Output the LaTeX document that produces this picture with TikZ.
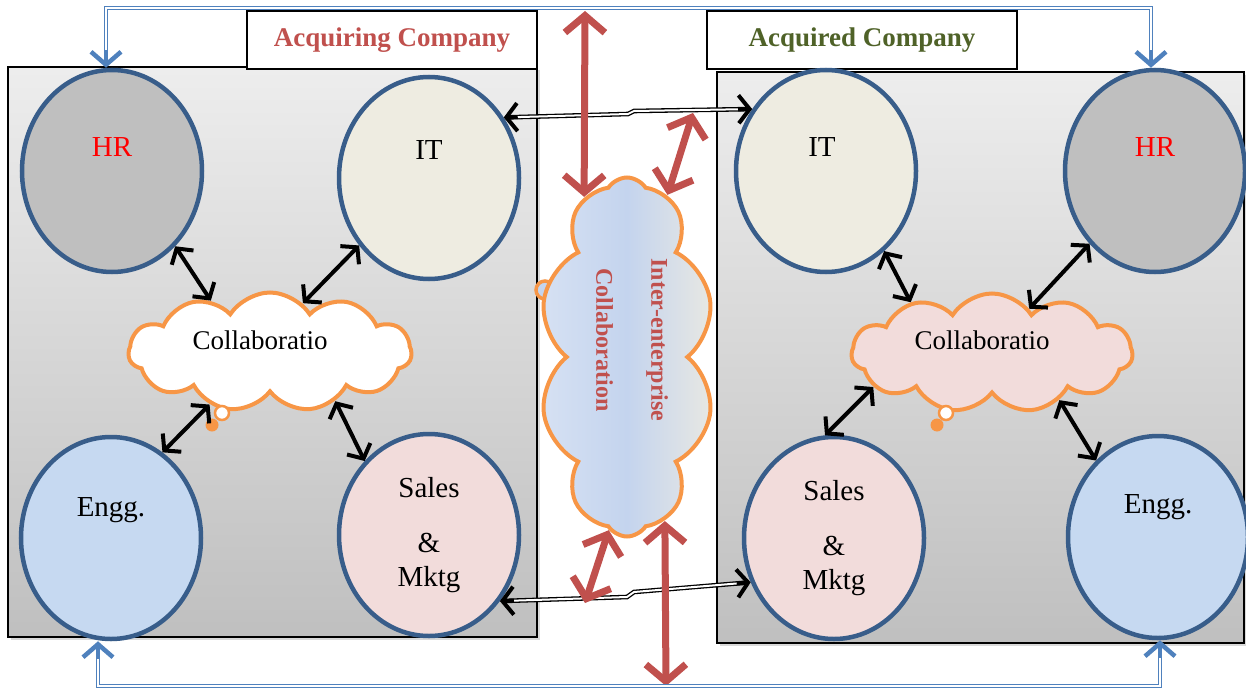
\documentclass[tikz,border=0pt]{standalone}
\usepackage{fontspec}
\setmainfont{Liberation Serif}
\usetikzlibrary{shapes.symbols,shapes.geometric,arrows.meta,shadows,calc}
\definecolor{rimblue}{HTML}{385D8A}
\definecolor{lineblue}{HTML}{4F81BD}
\definecolor{hrgray}{HTML}{BFBFBF}
\definecolor{itcream}{HTML}{EEECE1}
\definecolor{engblue}{HTML}{C6D9F1}
\definecolor{salespink}{HTML}{F2DCDB}
\definecolor{cloudorange}{HTML}{F79646}
\definecolor{arrowred}{HTML}{C0504D}
\definecolor{titlegreen}{HTML}{4F6228}
\definecolor{mistblue}{HTML}{C4D4EE}
\definecolor{mistgray}{HTML}{E8E8E3}
\begin{document}
\begin{tikzpicture}[x=1pt,y=-1pt,
  panel/.style={draw=black, line width=1.2pt, top color=black!7, bottom color=black!25, drop shadow={shadow xshift=3pt, shadow yshift=-3pt, opacity=.3}},
  titlebox/.style={draw=black, line width=1.2pt, fill=white, minimum width=290pt, minimum height=58pt, font=\fontsize{27}{30}\selectfont\bfseries},
  dept/.style={ellipse, draw=rimblue, line width=4.5pt, minimum width=180pt, minimum height=202pt, inner sep=0pt},
  lbl/.style={font=\fontsize{29}{34}\selectfont, align=center},
  puff/.style={cloud, cloud puffs=11, cloud puff arc=115, cloud ignores aspect, draw=cloudorange, line width=4pt, inner sep=0pt},
  link/.style={line width=4pt, {Straight Barb[length=11pt,width=26pt]}-{Straight Barb[length=11pt,width=26pt]}},
  wire/.style={line width=1.3pt, double=white, double distance=2pt},
  wiretip/.style={line width=4pt, -{Straight Barb[length=11pt,width=28pt]}},
  bigarrow/.style={arrowred, line width=7pt, {Straight Barb[length=17pt,width=40pt]}-{Straight Barb[length=17pt,width=40pt]}},
  loop/.style={lineblue, line width=1.3pt, double=white, double distance=2pt},
  looptip/.style={lineblue, line width=4.5pt, -{Straight Barb[length=13pt,width=30pt]}}
]
\useasboundingbox (0,0) rectangle (1246,690);

\draw[panel] (8,67) rectangle (537,637);
\draw[panel] (717,72) rectangle (1244,643);
\node[titlebox, text=arrowred] (title1) at (392,40) {Acquiring Company};
\node[titlebox, text=titlegreen, minimum width=310pt] (title2) at (862,40) {Acquired Company};

\node[dept, fill=hrgray] (hr1) at (112,171) {};
\node[dept, fill=itcream] (it1) at (429,178) {};
\node[dept, fill=engblue] (eng1) at (111,538) {};
\node[dept, fill=salespink] (sales1) at (429,535) {};
\node[dept, fill=itcream] (it2) at (826,171) {};
\node[dept, fill=hrgray] (hr2) at (1155,171) {};
\node[dept, fill=salespink] (sales2) at (834,538) {};
\node[dept, fill=engblue] (eng2) at (1158,537) {};

\node[lbl, text=red] (hr1t) at ([yshift=24pt]hr1.center) {HR};
\node[lbl] (it1t) at ([yshift=28pt]it1.center) {IT};
\node[lbl] (eng1t) at ([yshift=28pt]eng1.center) {Engg.};
\node[lbl] (sales1t) at (sales1.center) {Sales\\[21pt]\&\\Mktg};
\node[lbl] (it2t) at ([xshift=-4pt,yshift=24pt]it2.center) {IT};
\node[lbl, text=red] (hr2t) at ([yshift=24pt]hr2.center) {HR};
\node[lbl] (sales2t) at (sales2.center) {Sales\\[21pt]\&\\Mktg};
\node[lbl] (eng2t) at ([yshift=30pt]eng2.center) {Engg.};

\draw[cloudorange, line width=3.5pt, fill=mistblue] (545,290) circle (9);
\node[puff, fill=white, minimum width=283pt, minimum height=119pt] (col1) at (270,352) {};
\node[puff, fill=salespink, minimum width=281pt, minimum height=119pt] (col2) at (992,353) {};
\node[puff, cloud puffs=10, left color=mistblue!70!white, right color=mistgray, middle color=mistblue, minimum width=175pt, minimum height=359pt] (col0) at (627,357) {};
\draw[cloudorange, line width=2.5pt, fill=white] (222,413) circle (7);
\fill[cloudorange] (212,425) circle (6.5);
\draw[cloudorange, line width=2.5pt, fill=white] (946,413) circle (7);
\fill[cloudorange] (937,425) circle (6.5);
\node[lbl, font=\fontsize{27}{30}\selectfont] (col1t) at (260,340) {Collaboratio};
\node[lbl, font=\fontsize{27}{30}\selectfont] (col2t) at (982,340) {Collaboratio};
\node[lbl, font=\fontsize{24}{30}\selectfont\bfseries, text=arrowred, rotate=-90] (col0t) at (632,340) {Inter-enterprise\\[25pt]Collaboration};

\draw[link] (hr1.-50) -- (col1.139);
\draw[link] (it1.224) -- (col1.56);
\draw[link] (col1.221) -- (eng1.59);
\draw[link] (col1.-37) -- (sales1.131);
\draw[link] (it2.-54) -- (col2.148);
\draw[link] (hr2.228) -- (col2.50);
\draw[link] (col2.196) -- (sales2.95);
\draw[link] (col2.-35) -- (eng2.129);

\coordinate (bend1) at (628,114);
\coordinate (bend2) at (634,111);
\coordinate (bend3) at (627,597);
\coordinate (bend4) at (634,592);
\draw[wire] ($(it1.39)!3pt!(bend1)$) -- (bend1) -- (bend2) -- ($(it2.140)!3pt!(bend2)$);
\draw[wire] ($(sales1.-43)!3pt!(bend3)$) -- (bend3) -- (bend4) -- ($(sales2.208)!3pt!(bend4)$);
\draw[wiretip] ($(it1.39)!14pt!(bend1)$) -- (it1.39);
\draw[wiretip] ($(it2.140)!14pt!(bend2)$) -- (it2.140);
\draw[wiretip] ($(sales1.-43)!14pt!(bend3)$) -- (sales1.-43);
\draw[wiretip] ($(sales2.208)!14pt!(bend4)$) -- (sales2.208);

\coordinate (redtop) at (585,11);
\coordinate (redwire) at (693,113);
\coordinate (redbot) at (585,603);
\coordinate (redfoot) at (666,686);
\draw[bigarrow] (redtop) -- (col0.105);
\draw[bigarrow] (redwire) -- (col0.76);
\draw[bigarrow] (col0.264) -- (redbot);
\draw[bigarrow] (col0.283) -- (redfoot);

\draw[loop] ([xshift=-6pt,yshift=4pt]hr1.north) |- (630,8) -| ([xshift=-4pt,yshift=4pt]hr2.north);
\draw[loop] ([xshift=-13pt,yshift=-4pt]eng1.south) |- (630,686) -| ([xshift=2pt,yshift=-4pt]eng2.south);
\draw[looptip] ([xshift=-6pt,yshift=18pt]hr1.north) -- ([xshift=-6pt]hr1.north);
\draw[looptip] ([xshift=-4pt,yshift=18pt]hr2.north) -- ([xshift=-4pt]hr2.north);
\draw[looptip] ([xshift=-13pt,yshift=-18pt]eng1.south) -- ([xshift=-13pt]eng1.south);
\draw[looptip] ([xshift=2pt,yshift=-18pt]eng2.south) -- ([xshift=2pt]eng2.south);
\end{tikzpicture}
\end{document}
